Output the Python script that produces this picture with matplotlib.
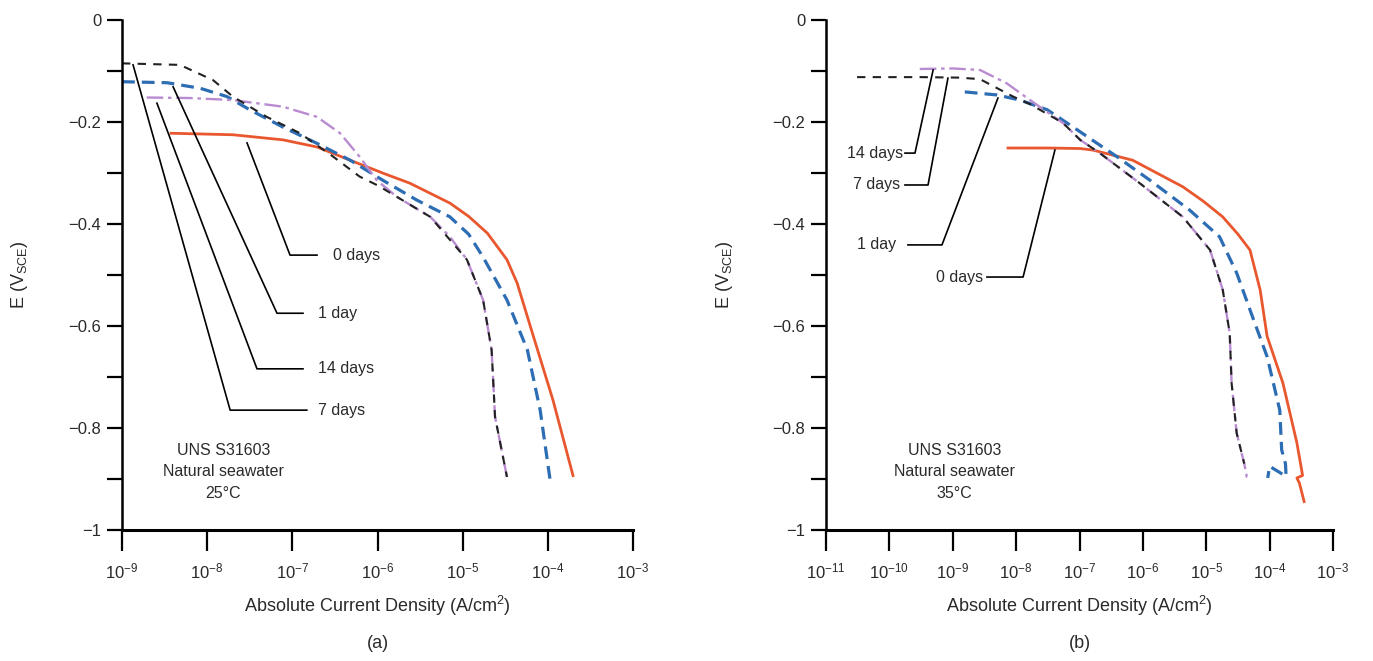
import matplotlib
matplotlib.use("Agg")
import matplotlib.pyplot as plt
import numpy as np
from matplotlib.ticker import FixedLocator, MultipleLocator

plt.rcParams['font.family'] = ['Liberation Sans', 'DejaVu Sans']
plt.rcParams['mathtext.fontset'] = 'custom'
plt.rcParams['mathtext.rm'] = 'Liberation Sans'
plt.rcParams['mathtext.it'] = 'Liberation Sans:italic'

# (a) 25 C  -- log10 of current density, potential in V
red_a_log = [-8.44, -7.70, -7.11, -6.71, -6.32, -5.94, -5.62, -5.15, -4.93, -4.71, -4.48, -4.36, -4.17, -3.94, -3.70]
red_a_E = [-0.222, -0.225, -0.235, -0.249, -0.275, -0.30, -0.32, -0.359, -0.385, -0.418, -0.47, -0.516, -0.62, -0.745, -0.896]
blue_a_log = [-9.0, -8.47, -8.08, -7.77, -7.50, -7.11, -6.71, -6.32, -5.94, -5.54, -5.15, -4.93, -4.76, -4.48, -4.24, -4.09, -3.975]
blue_a_E = [-0.121, -0.123, -0.134, -0.15, -0.176, -0.21, -0.242, -0.275, -0.314, -0.353, -0.386, -0.42, -0.465, -0.549, -0.647, -0.765, -0.90]
purple_a_log = [-8.71, -8.2, -7.70, -7.11, -6.71, -6.44, -6.21, -6.01, -5.77, -5.38, -5.15, -4.95, -4.76, -4.66, -4.62, -4.48]
purple_a_E = [-0.152, -0.153, -0.157, -0.17, -0.19, -0.222, -0.268, -0.314, -0.347, -0.386, -0.425, -0.47, -0.549, -0.647, -0.778, -0.896]
black_a_log = [-9.0, -8.32, -7.93, -7.70, -7.30, -6.91, -6.52, -6.21, -5.99, -5.77, -5.38, -4.95, -4.76, -4.66, -4.62, -4.48]
black_a_E = [-0.085, -0.088, -0.118, -0.15, -0.19, -0.222, -0.268, -0.307, -0.325, -0.347, -0.386, -0.47, -0.549, -0.647, -0.778, -0.896]

# (b) 35 C
red_b_log = [-8.15, -7.5, -6.99, -6.79, -6.16, -5.37, -5.05, -4.74, -4.50, -4.31, -4.15, -4.04, -3.79, -3.57, -3.48, -3.57, -3.53, -3.45]
red_b_E = [-0.251, -0.251, -0.252, -0.255, -0.275, -0.327, -0.355, -0.386, -0.42, -0.451, -0.529, -0.62, -0.712, -0.829, -0.893, -0.898, -0.908, -0.947]
blue_b_log = [-8.81, -8.30, -7.94, -7.51, -7.10, -6.41, -5.89, -5.26, -4.79, -4.52, -4.27, -4.04, -3.84, -3.81, -3.75, -3.74, -4.0, -4.03]
blue_b_E = [-0.141, -0.147, -0.157, -0.176, -0.21, -0.268, -0.314, -0.373, -0.425, -0.496, -0.582, -0.66, -0.765, -0.843, -0.87, -0.895, -0.875, -0.898]
purple_b_log = [-9.52, -9.0, -8.57, -8.15, -7.78, -7.26, -6.99, -6.68, -6.05, -5.37, -4.94, -4.74, -4.63, -4.60, -4.52, -4.40, -4.36, -4.30]
purple_b_E = [-0.096, -0.095, -0.098, -0.124, -0.157, -0.202, -0.235, -0.261, -0.32, -0.386, -0.451, -0.529, -0.614, -0.712, -0.81, -0.87, -0.896, -0.9]
black_b_log = [-10.51, -10.1, -9.5, -8.89, -8.57, -8.05, -7.78, -7.26, -6.99, -6.68, -6.05, -5.37, -4.94, -4.74, -4.63, -4.60, -4.52, -4.40]
black_b_E = [-0.112, -0.112, -0.112, -0.113, -0.116, -0.15, -0.165, -0.202, -0.235, -0.261, -0.32, -0.386, -0.451, -0.529, -0.614, -0.712, -0.81, -0.87]

# leader lines: (label, [log i points], [E points], text position)
leaders_a = [
    ("0 days", [-7.532, -7.027, -6.71], [-0.241, -0.461, -0.461], (-6.52, -0.461)),
    ("1 day", [-8.40, -7.18, -6.875], [-0.131, -0.575, -0.575], (-6.70, -0.575)),
    ("14 days", [-8.59, -7.415, -6.875], [-0.163, -0.684, -0.684], (-6.70, -0.684)),
    ("7 days", [-8.87, -7.73, -6.83], [-0.088, -0.765, -0.765], (-6.70, -0.765)),
]
leaders_b = [
    ("14 days", [-9.31, -9.596, -9.754], [-0.098, -0.261, -0.261], (-9.78, -0.261)),
    ("7 days", [-9.076, -9.39, -9.754], [-0.114, -0.3235, -0.3235], (-9.83, -0.3235)),
    ("1 day", [-8.287, -9.17, -9.707], [-0.153, -0.441, -0.441], (-9.90, -0.441)),
    ("0 days", [-7.388, -7.89, -8.46], [-0.255, -0.504, -0.504], (-8.52, -0.504)),
]

RED = '#e9572f'
BLUE = '#2d6db4'
PURPLE = '#b98bd0'
BLACK = '#222222'
TXT = '#2a2a2a'

fig = plt.figure(figsize=(13.73, 6.61), dpi=100)
axa = fig.add_axes([122/1373, 131/661, 511/1373, 510/661])
axb = fig.add_axes([826/1373, 131/661, 507/1373, 510/661])


def fmt_y(v):
    if abs(v) < 1e-9:
        return '0'
    if abs(v + 1) < 1e-9:
        return '\u22121'
    return ('%.1f' % v).replace('-', '\u2212')


def draw(ax, series, leaders, xmin, note, ha):
    for lg, E, c, ls, lw in series:
        ax.plot(10**np.array(lg), E, color=c, linestyle=ls, lw=lw, solid_capstyle='butt')
    for name, lx, ly, (tx, ty) in leaders:
        ax.plot(10**np.array(lx), ly, color='black', lw=1.2)
        ax.text(10**tx, ty, name, ha=ha, va='center', fontsize=11.5, color=TXT)
    ax.set_xscale('log')
    ax.set_xlim(10.0**xmin, 1e-3)
    ax.set_ylim(-1, 0)
    for s in ['top', 'right']:
        ax.spines[s].set_visible(False)
    ax.spines['left'].set_linewidth(1.8)
    ax.spines['bottom'].set_linewidth(2.2)
    decades = list(range(xmin, -2))
    ax.xaxis.set_major_locator(FixedLocator([10.0**d for d in decades]))
    ax.xaxis.set_minor_locator(FixedLocator([]))
    ax.set_xticklabels([r'10$^{\minus%d}$' % (-d) for d in decades])
    ax.yaxis.set_major_locator(MultipleLocator(0.2))
    ax.yaxis.set_minor_locator(MultipleLocator(0.1))
    ax.set_yticklabels([fmt_y(v) for v in ax.get_yticks()])
    ax.tick_params(axis='x', which='major', direction='out', length=15, width=1.6, pad=8,
                   labelsize=12, labelcolor=TXT)
    ax.tick_params(axis='y', which='both', direction='out', length=11, width=1.6, pad=4,
                   labelsize=12, labelcolor=TXT)
    ax.set_xlabel('Absolute Current Density (A/cm$^2$)', fontsize=13, color=TXT)
    ax.xaxis.set_label_coords(0.5, -0.125)
    ax.set_ylabel(r'E (V$_{\rm SCE}$)', fontsize=13, color=TXT)
    ax.yaxis.set_label_coords(-0.18, 0.5)
    ax.text(10**note[0], -0.886, note[1], ha='center', va='center', fontsize=11.5,
            color=TXT, linespacing=1.55)


series_a = [
    (red_a_log, red_a_E, RED, '-', 2.0),
    (blue_a_log, blue_a_E, BLUE, (0, (4, 2.2)), 2.3),
    (purple_a_log, purple_a_E, PURPLE, (0, (7, 2, 1.5, 2)), 1.7),
    (black_a_log, black_a_E, BLACK, (0, (4, 3.5)), 1.5),
]
series_b = [
    (red_b_log, red_b_E, RED, '-', 2.0),
    (blue_b_log, blue_b_E, BLUE, (0, (4, 2.2)), 2.3),
    (purple_b_log, purple_b_E, PURPLE, (0, (7, 2, 1.5, 2)), 1.7),
    (black_b_log, black_b_E, BLACK, (0, (4, 3.5)), 1.5),
]

draw(axa, series_a, leaders_a, -9, (-7.81, 'UNS S31603\nNatural seawater\n25\u00b0C'), 'left')
draw(axb, series_b, leaders_b, -11, (-8.97, 'UNS S31603\nNatural seawater\n35\u00b0C'), 'right')

fig.text(378/1373, 1 - 644/661, '(a)', ha='center', va='center', fontsize=13, color=TXT)
fig.text(1080/1373, 1 - 644/661, '(b)', ha='center', va='center', fontsize=13, color=TXT)

fig.savefig('out.png', dpi=100)
